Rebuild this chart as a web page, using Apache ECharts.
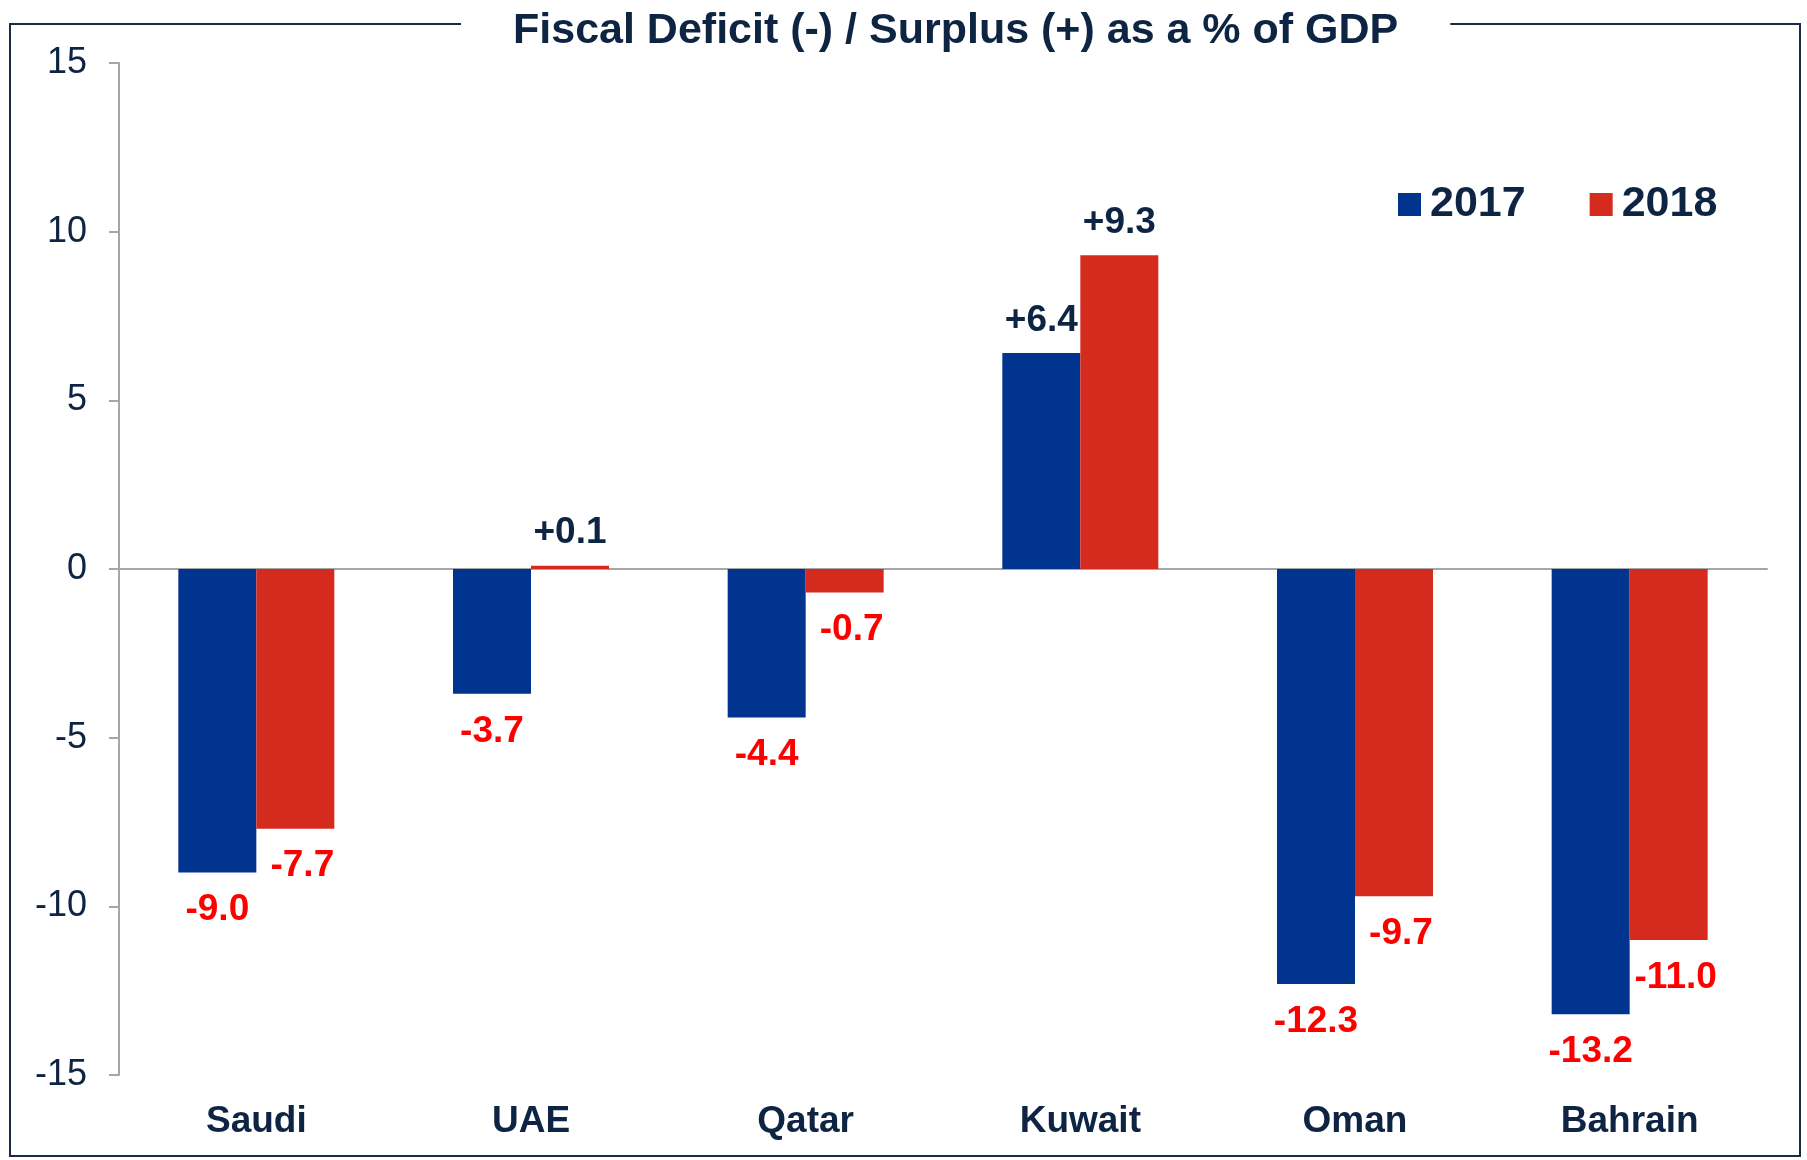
<!DOCTYPE html>
<html>
<head>
<meta charset="utf-8">
<title>Fiscal Deficit / Surplus</title>
<script src="https://cdn.jsdelivr.net/npm/echarts@6/dist/echarts.min.js"></script>
<style>
  html, body { margin: 0; padding: 0; background: #fff; }
  #chart { width: 1807px; height: 1160px; }
</style>
</head>
<body>
<div id="chart"></div>
<script>
// data
const countries = ['Saudi', 'UAE', 'Qatar', 'Kuwait', 'Oman', 'Bahrain'];
const y2017 = [-9.0, -3.7, -4.4, 6.4, -12.3, -13.2];
const y2018 = [-7.7, 0.1, -0.7, 9.3, -9.7, -11.0];
const yTicks = [-15, -10, -5, 0, 5, 10, 15];

const NAVY = '#0e2443';
const FONT = '"Liberation Sans", Arial, sans-serif';

// labels: positive above in navy with "+", negative below in red
function withLabels(values, dx) {
  return values.map(v => ({
    value: v,
    label: {
      position: v >= 0 ? 'top' : 'bottom',
      distance: v >= 0 ? 14 : 19,
      color: v >= 0 ? NAVY : '#ff0000',
      offset: v >= 0 ? [0, 0] : [dx, 0]
    }
  }));
}

function barSeries(name, values, color, dx) {
  return {
    name: name,
    type: 'bar',
    barWidth: 78,
    barGap: '0%',
    xAxisIndex: 0,
    itemStyle: { color: color },
    label: {
      show: true,
      fontFamily: FONT,
      fontWeight: 'bold',
      fontSize: 37,
      formatter: p => (p.value > 0 ? '+' : '') + p.value.toFixed(1)
    },
    data: withLabels(values, dx)
  };
}

const chart = echarts.init(document.getElementById('chart'));
chart.setOption({
  animation: false,
  backgroundColor: '#fff',
  graphic: [{
    type: 'rect',
    z: 0,
    shape: { x: 10, y: 24, width: 1790, height: 1132 },
    style: { fill: null, stroke: '#1c2b45', lineWidth: 2 }
  }],
  title: {
    text: 'Fiscal Deficit (-) / Surplus (+) as a % of GDP',
    left: 461,
    top: 10,
    padding: [0, 52],
    backgroundColor: '#fff',
    textStyle: { fontFamily: FONT, fontWeight: 'bold', fontSize: 43, color: NAVY }
  },
  legend: {
    data: ['2017', '2018'],
    left: 1398,
    top: 183,
    padding: 0,
    icon: 'rect',
    itemWidth: 23,
    itemHeight: 23,
    itemGap: 64,
    textStyle: { fontFamily: FONT, fontWeight: 'bold', fontSize: 43, color: NAVY, padding: [0, 0, 0, 4] }
  },
  grid: { left: 119, right: 40, top: 63, bottom: 85, containLabel: false },
  xAxis: [{
    // labels only, kept at the bottom
    type: 'category',
    data: countries,
    position: 'bottom',
    axisLine: { show: false, onZero: false },
    axisTick: { show: false },
    axisLabel: { margin: 28, fontFamily: FONT, fontWeight: 'bold', fontSize: 37, color: NAVY }
  }, {
    // zero line with category separators
    type: 'category',
    data: countries,
    position: 'bottom',
    axisLine: { onZero: true, lineStyle: { color: '#a6a6a6', width: 2 } },
    axisTick: { length: 10, lineStyle: { color: '#a6a6a6', width: 2 } },
    axisLabel: { show: false }
  }],
  yAxis: {
    type: 'value',
    min: yTicks[0],
    max: yTicks[yTicks.length - 1],
    interval: 5,
    axisLine: { show: true, lineStyle: { color: '#a6a6a6', width: 2 } },
    axisTick: { show: true, length: 10, lineStyle: { color: '#a6a6a6', width: 2 } },
    splitLine: { show: false },
    axisLabel: { margin: 32, fontFamily: FONT, fontSize: 36, color: NAVY }
  },
  series: [
    barSeries('2017', y2017, '#00348f', 0),
    barSeries('2018', y2018, '#d52b1f', 7)
  ]
});
</script>
</body>
</html>
